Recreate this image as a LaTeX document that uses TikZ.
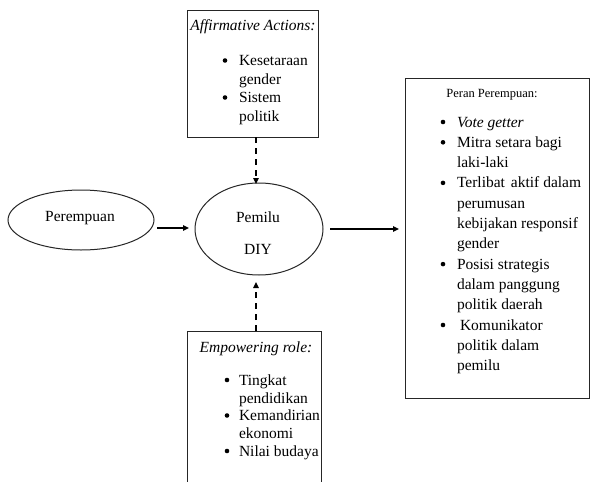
\documentclass[tikz,border=0pt]{standalone}
\usepackage{fontspec}
\setmainfont{Liberation Serif}
\usetikzlibrary{arrows.meta,shapes.geometric}
\begin{document}
\begin{tikzpicture}[x=1pt,y=-1pt,
  every node/.style={inner sep=0pt,outer sep=0pt},
  boxst/.style={draw=black!85,line width=1pt,rectangle,fill=none},
  ell/.style={draw=black!85,line width=1pt,ellipse},
  txt/.style={font=\fontsize{15.5}{18}\selectfont,anchor=base west},
  ctxt/.style={font=\fontsize{15.5}{18}\selectfont,anchor=base},
  bul/.style={circle,fill=black,minimum size=4.6pt,yshift=5pt},
  arr/.style={line width=1.3pt,-{Triangle[length=6pt,width=5.5pt]}},
  darr/.style={line width=1.3pt,dash pattern=on 6pt off 5pt,-{Triangle[length=6pt,width=5.5pt]}}]
\useasboundingbox[fill=white] (0,0) rectangle (592,482);
\clip (0,0) rectangle (592,482);
% boxes
\node[boxst,minimum width=131pt,minimum height=127pt] (topbox) at (252.5,73.5) {};
\node[boxst,minimum width=134pt,minimum height=200pt] (botbox) at (254,431) {};
\node[boxst,minimum width=184pt,minimum height=320pt] (rbox) at (497,238) {};
% ellipses
\node[ell,minimum width=146pt,minimum height=60pt] (per) at (81,220) {};
\node[ctxt] (pertxt) at (80,221) {Perempuan};
\node[ell,minimum width=128pt,minimum height=92pt] (pem) at (259,229) {};
\node[ctxt] (pemtxt1) at (258,222) {Pemilu};
\node[ctxt] (pemtxt2) at (258,254) {DIY};
% top box text
\node[ctxt] (th) at (253,30) {\itshape Affirmative Actions:};
\node[bul] (tb1) at (225,65.5) {};
\node[txt] (tl1) at (239,65.5) {Kesetaraan};
\node[txt] (tl2) at (239,84) {gender};
\node[bul] (tb2) at (225,102.5) {};
\node[txt] (tl3) at (239,102.5) {Sistem};
\node[txt] (tl4) at (239,121) {politik};
% bottom box text
\node[ctxt] (bh) at (256,352) {\itshape Empowering role:};
\node[bul] (bb1) at (227,385) {};
\node[txt] (bl1) at (239,385) {Tingkat};
\node[txt] (bl2) at (239,403) {pendidikan};
\node[bul] (bb2) at (227,420.5) {};
\node[txt] (bl3) at (239,420.5) {Kemandirian};
\node[txt] (bl4) at (239,438) {ekonomi};
\node[bul] (bb3) at (227,456) {};
\node[txt] (bl5) at (239,456) {Nilai budaya};
% right box text
\node[font=\fontsize{12.5}{15}\selectfont,anchor=base] (rh) at (492,97) {Peran Perempuan:};
\node[bul] (rb1) at (443,127) {};
\node[txt] (rl1) at (457,127) {\itshape Vote getter};
\node[bul] (rb2) at (443,147.3) {};
\node[txt] (rl2) at (457,147.3) {Mitra setara bagi};
\node[txt] (rl3) at (457,167.6) {laki-laki};
\node[bul] (rb3) at (443,187.9) {};
\node[txt] (rl4) at (457,187.9) {Terlibat\hspace{6pt}aktif dalam};
\node[txt] (rl5) at (457,208.2) {perumusan};
\node[txt] (rl6) at (457,228.5) {kebijakan responsif};
\node[txt] (rl7) at (457,248.8) {gender};
\node[bul] (rb4) at (443,269.1) {};
\node[txt] (rl8) at (457,269.1) {Posisi strategis};
\node[txt] (rl9) at (457,289.4) {dalam panggung};
\node[txt] (rl10) at (457,309.7) {politik daerah};
\node[bul] (rb5) at (443,330) {};
\node[txt] (rl11) at (460,330) {Komunikator};
\node[txt] (rl12) at (457,350.3) {politik dalam};
\node[txt] (rl13) at (457,370.6) {pemilu};
% connectors
\coordinate (a1s) at (157,228);
\coordinate (a1e) at (189,228);
\coordinate (a2s) at (330,229);
\coordinate (a2e) at (399,229);
\coordinate (d1e) at (256,184);
\coordinate (d2e) at (256,282);
\draw[arr] (a1s) -- (a1e);
\draw[arr] (a2s) -- (a2e);
\draw[darr] (topbox.south -| d1e) -- (d1e);
\draw[darr] (botbox.north -| d2e) -- (d2e);
\end{tikzpicture}
\end{document}
